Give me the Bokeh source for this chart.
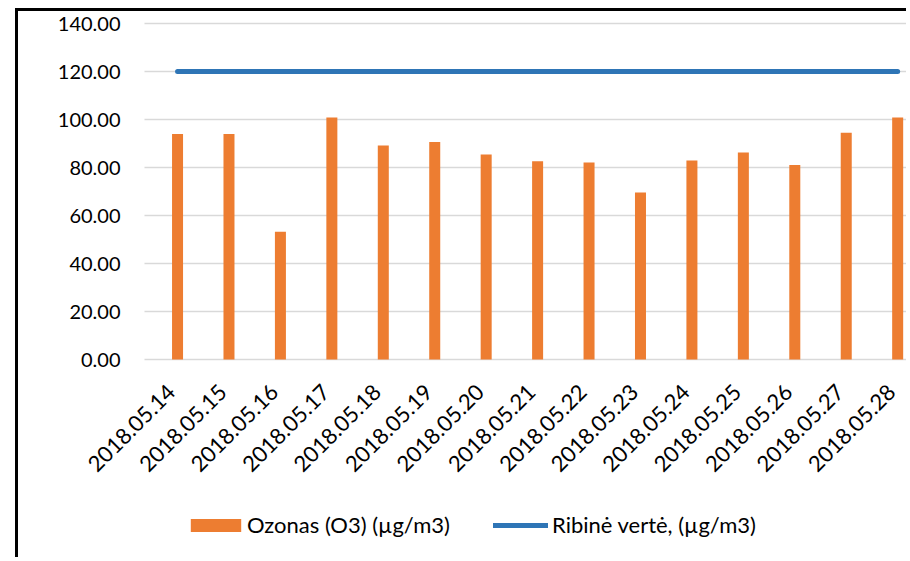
from bokeh.plotting import figure
from bokeh.models import (Range1d, FixedTicker, NumeralTickFormatter, Legend, LegendItem,
                          ColumnDataSource)
from bokeh.core.properties import value
from bokeh.embed import file_html
from bokeh.resources import INLINE
import math

dates = ["2018.05.14", "2018.05.15", "2018.05.16", "2018.05.17", "2018.05.18",
         "2018.05.19", "2018.05.20", "2018.05.21", "2018.05.22", "2018.05.23",
         "2018.05.24", "2018.05.25", "2018.05.26", "2018.05.27", "2018.05.28"]
ozonas = [94.0, 94.0, 53.2, 100.8, 89.2, 90.6, 85.4, 82.6, 82.1, 69.6,
          82.9, 86.3, 81.0, 94.5, 100.8]
ribine_verte = [120, 120, 120, 120, 120, 120, 120, 120, 120, 120,
                120, 120, 120, 120, 120]
y_ticks = [0, 20, 40, 60, 80, 100, 120, 140]
ozonas_label = "Ozonas (O3) (µg/m3)"
ribine_label = "Ribinė vertė, (µg/m3)"

idx = list(range(len(dates)))
FONT = "Lato"

# layout: data-space edges of the visible area and of the plot area
X_START, PLOT_LEFT, X_END = -3.092, -0.642, 14.23
Y_START, Y_END = -83.75, 145

p = figure(width=891, height=549, output_backend="svg", toolbar_location=None,
           x_range=Range1d(X_START, X_END), y_range=Range1d(Y_START, Y_END),
           x_axis_location=None,
           min_border_left=0, min_border_right=0, min_border_top=0,
           min_border_bottom=0)
p.styles = {"border-top": "3px solid black", "border-left": "3px solid black",
            "margin-left": "15px", "margin-top": "8px"}
p.outline_line_color = None

bars = p.vbar(x=idx, top=ozonas, width=0.214, color="#ed7d31", line_color=None)
line = p.line(x=idx, y=ribine_verte, line_color="#2e75b6", line_width=5,
              line_cap="round")

lab_src = ColumnDataSource(dict(x=idx, y=[y_ticks[0]] * len(dates), text=dates))
p.text(x="x", y="y", text="text", source=lab_src, angle=math.pi / 4,
       text_align="right", text_baseline="middle", x_offset=-6, y_offset=29,
       text_font=value(FONT), text_font_size=value("22px"), text_color="#000000")

p.xgrid.visible = False
p.ygrid.grid_line_color = "#d9d9d9"
p.ygrid.grid_line_width = 1.5
p.ygrid.cross_bounds = (PLOT_LEFT, X_END)

yax = p.yaxis[0]
yax.fixed_location = PLOT_LEFT
yax.ticker = FixedTicker(ticks=y_ticks)
yax.formatter = NumeralTickFormatter(format="0.00")
yax.major_label_standoff = 24
yax.axis_line_color = None
yax.major_tick_line_color = None
yax.minor_tick_line_color = None
yax.major_tick_out = 0
yax.major_tick_in = 0
yax.minor_tick_out = 0
yax.major_label_text_font = FONT
yax.major_label_text_color = "#000000"
yax.major_label_text_font_size = "20px"

def mk_legend(item, loc, gw, gh, standoff):
    lg = Legend(items=[item], location=loc, orientation="horizontal",
                glyph_width=gw, glyph_height=gh, label_standoff=standoff,
                padding=0, margin=0, border_line_color=None,
                background_fill_alpha=0, label_text_font=FONT,
                label_text_font_size="22px", label_text_color="#000000")
    p.add_layout(lg, "center")

mk_legend(LegendItem(label=ozonas_label, renderers=[bars]), (166, 22), 63, 16, 0)
mk_legend(LegendItem(label=ribine_label, renderers=[line]), (475, 22), 55, 16, 4)

open("out.html", "w").write(file_html(p, INLINE))
